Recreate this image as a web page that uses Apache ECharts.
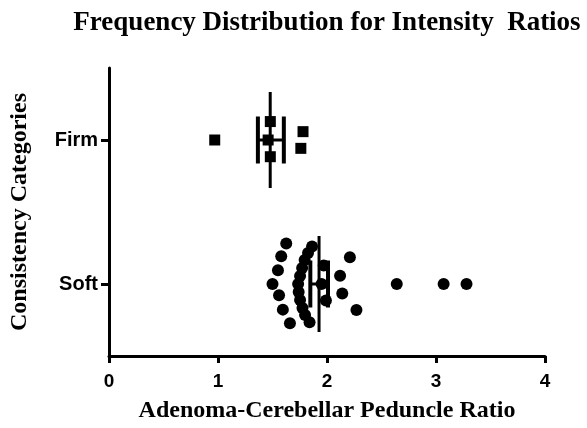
<!DOCTYPE html>
<html>
<head>
<meta charset="utf-8">
<script src="https://cdn.jsdelivr.net/npm/echarts@6/dist/echarts.min.js"></script>
<style>
html,body{margin:0;padding:0;background:#fff;}
#chart{width:587px;height:428px;}
</style>
</head>
<body>
<div id="chart"></div>
<script>
// ---- data ----
const categories = ['Soft', 'Firm'];
const xTicks = [0, 1, 2, 3, 4];

// Firm group: ratio values and their spread offset (in category units)
const firmValues  = [0.97, 1.48, 1.46, 1.48, 1.78, 1.76];
const firmSpread  = [0, 0.128, 0, -0.116, 0.058, -0.058];

// Soft group
const softValues = [
  1.626, 1.58, 1.55, 1.50, 1.56, 1.595, 1.66,
  1.863, 1.826, 1.795, 1.772, 1.753, 1.735, 1.74, 1.753, 1.775, 1.799, 1.84,
  1.95, 1.97, 1.99,
  2.21, 2.12, 2.14, 2.27,
  2.64, 3.07, 3.28
];
const softSpread = [
  0.282, 0.192, 0.096, 0, -0.078, -0.178, -0.272,
  0.261, 0.216, 0.167, 0.111, 0.056, 0, -0.056, -0.111, -0.167, -0.216, -0.265,
  0, 0.129, -0.115,
  0.185, 0.057, -0.066, -0.18,
  0, 0, 0
];

// mean and SEM, order follows categories
const groupMean = [1.927, 1.479];
const semLow    = [1.847, 1.366];
const semHigh   = [2.009, 1.604];

// ---- build ----
function catCenter(i) { return i + 0.5; } // value-axis position of category i
const firmData = firmValues.map((v, k) => [v, catCenter(1) + firmSpread[k]]);
const softData = softValues.map((v, k) => [v, catCenter(0) + softSpread[k]]);
const errData = categories.map((c, i) => [catCenter(i), groupMean[i], semLow[i], semHigh[i]]);

const chart = echarts.init(document.getElementById('chart'), null, {renderer: 'canvas'});
const serif = '"Liberation Serif", "Times New Roman", serif';
const sans = '"Liberation Sans", Arial, sans-serif';

const MEAN_HALF = 48, CAP_HALF = 23.5;

chart.setOption({
  animation: false,
  backgroundColor: '#ffffff',
  title: {
    text: 'Frequency Distribution for Intensity  Ratios',
    left: 322, top: 5, textAlign: 'center',
    textStyle: {fontFamily: serif, fontWeight: 'bold', fontSize: 27, color: '#000'}
  },
  grid: {left: 105, right: 42, top: 68, bottom: 69, containLabel: false},
  xAxis: {
    type: 'value', min: 0, max: 4, interval: 1,
    name: 'Adenoma-Cerebellar Peduncle Ratio',
    nameLocation: 'middle', nameGap: 43,
    nameTextStyle: {fontFamily: serif, fontWeight: 'bold', fontSize: 24, color: '#000'},
    axisLine: {show: true, lineStyle: {color: '#000', width: 3}},
    axisTick: {show: true, length: 7, lineStyle: {color: '#000', width: 3}},
    axisLabel: {fontFamily: sans, fontWeight: 'bold', fontSize: 19, color: '#000', margin: 16,
      formatter: v => xTicks.includes(v) ? String(v) : ''},
    splitLine: {show: false}
  },
  yAxis: [
    {
      type: 'category', data: categories, boundaryGap: true,
      name: 'Consistency Categories', nameLocation: 'middle', nameGap: 77, nameRotate: 90,
      nameTextStyle: {fontFamily: serif, fontWeight: 'bold', fontSize: 24, color: '#000'},
      axisLine: {show: true, lineStyle: {color: '#000', width: 3}},
      axisTick: {show: true, alignWithLabel: true, length: 8, lineStyle: {color: '#000', width: 3}},
      axisLabel: {fontFamily: sans, fontWeight: 'bold', fontSize: 20, color: '#000', margin: 11},
      splitLine: {show: false}
    },
    {
      type: 'value', min: 0, max: 2, show: false
    }
  ],
  series: [
    {
      name: 'Firm', type: 'scatter', yAxisIndex: 1, data: firmData,
      symbol: 'rect', symbolSize: 11, itemStyle: {color: '#000', opacity: 1}, z: 3
    },
    {
      name: 'Soft', type: 'scatter', yAxisIndex: 1, data: softData,
      symbol: 'circle', symbolSize: 12, itemStyle: {color: '#000', opacity: 1}, z: 3
    },
    {
      name: 'Mean ± SEM', type: 'custom', yAxisIndex: 1, data: errData,
      encode: {x: [1, 2, 3], y: 0},
      z: 4,
      renderItem: function (params, api) {
        const pos = api.value(0);
        const m = api.coord([api.value(1), pos]);
        const lo = api.coord([api.value(2), pos]);
        const hi = api.coord([api.value(3), pos]);
        const st = {stroke: '#000', lineWidth: 3};
        return {
          type: 'group',
          children: [
            {type: 'line', shape: {x1: m[0], y1: m[1] - MEAN_HALF, x2: m[0], y2: m[1] + MEAN_HALF}, style: st},
            {type: 'line', shape: {x1: lo[0], y1: lo[1] - CAP_HALF, x2: lo[0], y2: lo[1] + CAP_HALF}, style: {stroke: '#000', lineWidth: 4}},
            {type: 'line', shape: {x1: hi[0], y1: hi[1] - CAP_HALF, x2: hi[0], y2: hi[1] + CAP_HALF}, style: {stroke: '#000', lineWidth: 4}},
            {type: 'line', shape: {x1: lo[0], y1: lo[1], x2: hi[0], y2: hi[1]}, style: st}
          ]
        };
      }
    }
  ]
});
</script>
</body>
</html>
